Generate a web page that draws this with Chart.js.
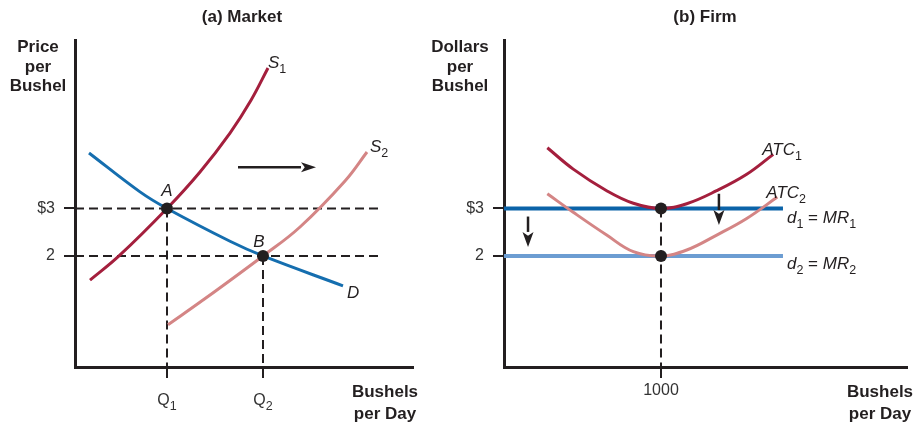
<!DOCTYPE html>
<html>
<head>
<meta charset="utf-8">
<script src="https://cdn.jsdelivr.net/npm/chart.js@4.4.1/dist/chart.umd.min.js"></script>
<style>
  body { margin: 0; background: #fff; }
  #wrap { position: relative; width: 919px; height: 427px; }
  #marketChart { position: absolute; left: 0; top: 0; }
  #firmChart { position: absolute; left: 400px; top: 0; }
</style>
</head>
<body>
<div id="wrap">
  <canvas id="marketChart" width="460" height="427"></canvas>
  <canvas id="firmChart" width="519" height="427"></canvas>
</div>
<script>
// ---- values ----
// shared price axis (dollars per bushel)
const priceMin = -0.34;
const priceMax = 6.55;
const priceTicks = [2, 3];
const priceTickLabels = ['2', '$3'];

// (a) Market  (quantity in arbitrary units)
const marketQtyMax = 33.8;
const marketQtyTicks = [9.2, 18.8];
const marketQtyLabels = [['Q', '1'], ['Q', '2']];
const s1Qty = [1.5, 4.4, 9.2, 12.5, 15.5, 17.6, 19.3];
const s1Price = [1.49, 2.0, 3.0, 3.77, 4.59, 5.28, 5.96];
const s2Qty = [9.3, 12.8, 18.8, 22.5, 27.0, 29.2];
const s2Price = [0.55, 1.07, 2.0, 2.61, 3.58, 4.19];
const dQty = [1.4, 6.5, 9.2, 15.5, 18.8, 26.8];
const dPrice = [4.17, 3.35, 3.0, 2.31, 2.0, 1.37];
const eqQty = [9.2, 18.8];
const eqPrice = [3, 2];
const eqLabels = ['A', 'B'];
const guideEnd = 30.6;
const shiftQty = [16.3, 24.1];
const shiftPrice = 3.87;

// (b) Firm  (bushels per day)
const firmQtyMax = 2567;
const firmQtyTicks = [1000];
const firmQtyLabels = ['1000'];
const atc1Qty = [276, 441, 654, 824, 1000, 1164, 1355, 1546, 1715];
const atc1Cost = [4.28, 3.83, 3.375, 3.11, 3.0, 3.10, 3.375, 3.72, 4.14];
const atc2Qty = [276, 441, 654, 824, 1000, 1164, 1355, 1546, 1741];
const atc2Cost = [3.31, 2.92, 2.44, 2.09, 2.0, 2.125, 2.44, 2.79, 3.24];
const mrPrice = [3, 2];
const mrEnd = 1777;
const firmOutput = 1000;
const dropArrows = [[153, 2.83, 2.19], [1369, 3.31, 2.65]];

// ---- styles ----
const FONT = '"Liberation Sans", Arial, Helvetica, sans-serif';
const ink = '#231f20';
const red = '#a41f3d';
const pink = '#d48585';
const blue = '#156eaf';
const darkBlue = '#0b63a8';
const lightBlue = '#6c9dd2';

Chart.defaults.font.family = FONT;

const pts = (xs, ys) => xs.map((x, i) => ({ x: x, y: ys[i] }));

function curve(data, color, width) {
  return {
    data: data, showLine: true, borderColor: color, borderWidth: width,
    pointRadius: 0, tension: 0.4, fill: false
  };
}
function straight(data, color, width) {
  return {
    data: data, showLine: true, borderColor: color, borderWidth: width,
    pointRadius: 0, tension: 0
  };
}
function dashed(data) {
  return {
    data: data, showLine: true, borderColor: ink, borderWidth: 2,
    borderDash: [9, 5], pointRadius: 0, tension: 0
  };
}
function dots(data) {
  return {
    data: data, showLine: false, pointRadius: 6, pointBackgroundColor: ink,
    pointBorderWidth: 0
  };
}

// text with italic / regular parts and subscripts
function drawRich(ctx, x, y, parts, align) {
  const fonts = {
    i: 'italic 17px ' + FONT,
    r: '17px ' + FONT,
    t: '16px ' + FONT,
    s: '12.5px ' + FONT
  };
  let total = 0;
  parts.forEach(p => { ctx.font = fonts[p[1]]; total += ctx.measureText(p[0]).width; });
  let cx = align === 'center' ? x - total / 2 : x;
  ctx.textAlign = 'left';
  ctx.textBaseline = 'alphabetic';
  parts.forEach(p => {
    ctx.font = fonts[p[1]];
    ctx.fillText(p[0], cx, p[1] === 's' ? y + 5 : y);
    cx += ctx.measureText(p[0]).width;
  });
}

function drawArrow(ctx, x1, y1, x2, y2, head, half) {
  const a = Math.atan2(y2 - y1, x2 - x1);
  const bx = x2 - head * Math.cos(a), by = y2 - head * Math.sin(a);
  ctx.beginPath();
  ctx.moveTo(x1, y1);
  ctx.lineTo(bx, by);
  ctx.lineWidth = 2.5;
  ctx.strokeStyle = ink;
  ctx.stroke();
  ctx.beginPath();
  ctx.moveTo(x2, y2);
  ctx.lineTo(bx + half * Math.sin(a), by - half * Math.cos(a));
  ctx.lineTo(bx + (head * 0.25) * Math.cos(a), by + (head * 0.25) * Math.sin(a));
  ctx.lineTo(bx - half * Math.sin(a), by + half * Math.cos(a));
  ctx.closePath();
  ctx.fillStyle = ink;
  ctx.fill();
}

// short tick marks hanging below the quantity axis
function drawQtyTicks(ctx, x, values, bottom) {
  ctx.strokeStyle = ink;
  ctx.lineWidth = 2;
  values.forEach(v => {
    const px = Math.round(x.getPixelForValue(v));
    ctx.beginPath();
    ctx.moveTo(px, bottom);
    ctx.lineTo(px, bottom + 11);
    ctx.stroke();
  });
}

function boldLines(ctx, lines, x, y0, step) {
  ctx.font = 'bold 17px ' + FONT;
  ctx.fillStyle = ink;
  ctx.textAlign = 'center';
  ctx.textBaseline = 'alphabetic';
  lines.forEach((t, i) => ctx.fillText(t, x, y0 + i * step));
}

function scales(xMax, xTicks, xLabels, showXLabels) {
  return {
    x: {
      type: 'linear', min: 0, max: xMax,
      border: { display: true, color: ink, width: 3 },
      grid: { display: true, drawOnChartArea: false, drawTicks: true, tickLength: 11, color: ink, lineWidth: 2 },
      afterBuildTicks: s => { s.ticks = xTicks.map(v => ({ value: v })); },
      afterFit: s => { s.height = 30; },
      ticks: {
        display: showXLabels, padding: 3, color: '#333',
        font: { size: 16 },
        callback: (v, i) => xLabels[i]
      }
    },
    y: {
      type: 'linear', min: priceMin, max: priceMax,
      border: { display: true, color: ink, width: 3 },
      grid: { display: true, drawOnChartArea: false, drawTicks: true, tickLength: 11, color: ink, lineWidth: 2 },
      afterBuildTicks: s => { s.ticks = priceTicks.map(v => ({ value: v })); },
      afterFit: s => { s.width = 40; },
      ticks: {
        padding: 9, color: '#333', font: { size: 16 },
        callback: (v, i) => priceTickLabels[i]
      }
    }
  };
}

const common = {
  responsive: false,
  animation: false,
  events: [],
  plugins: { legend: { display: false }, tooltip: { enabled: false } }
};

// (a) Market
const marketPlugin = {
  id: 'marketText',
  afterDraw(chart) {
    const { ctx, chartArea, scales: { x, y } } = chart;
    ctx.save();
    drawQtyTicks(ctx, x, marketQtyTicks, chartArea.bottom);
    boldLines(ctx, ['(a) Market'], 242, 21.5, 0);
    boldLines(ctx, ['Price', 'per', 'Bushel'], 38, 52, 19.5);
    boldLines(ctx, ['Bushels', 'per Day'], 385, 397, 21.5);
    ctx.fillStyle = '#333';
    marketQtyTicks.forEach((q, i) => {
      drawRich(ctx, x.getPixelForValue(q), 405, [[marketQtyLabels[i][0], 't'], [marketQtyLabels[i][1], 's']], 'center');
    });
    ctx.fillStyle = ink;
    const px = (q, p) => [x.getPixelForValue(q), y.getPixelForValue(p)];
    let e = px(s1Qty[s1Qty.length - 1], s1Price[s1Price.length - 1]);
    drawRich(ctx, e[0], e[1], [['S', 'i'], ['1', 's']]);
    e = px(s2Qty[s2Qty.length - 1], s2Price[s2Price.length - 1]);
    drawRich(ctx, e[0] + 3, e[1], [['S', 'i'], ['2', 's']]);
    e = px(dQty[dQty.length - 1], dPrice[dPrice.length - 1]);
    drawRich(ctx, e[0] + 4, e[1] + 12, [['D', 'i']]);
    e = px(eqQty[0], eqPrice[0]);
    drawRich(ctx, e[0], e[1] - 12, [[eqLabels[0], 'i']], 'center');
    e = px(eqQty[1], eqPrice[1]);
    drawRich(ctx, e[0] - 4, e[1] - 9, [[eqLabels[1], 'i']], 'center');
    const a = px(shiftQty[0], shiftPrice), b = px(shiftQty[1], shiftPrice);
    drawArrow(ctx, a[0], a[1], b[0], b[1], 15, 5);
    ctx.restore();
  }
};

new Chart(document.getElementById('marketChart'), {
  type: 'scatter',
  data: {
    datasets: [
      dots(pts(eqQty, eqPrice)),
      curve(pts(s1Qty, s1Price), red, 3),
      curve(pts(s2Qty, s2Price), pink, 3),
      curve(pts(dQty, dPrice), blue, 3),
      dashed([{ x: 0, y: eqPrice[0] }, { x: guideEnd, y: eqPrice[0] }]),
      dashed([{ x: 0, y: eqPrice[1] }, { x: guideEnd, y: eqPrice[1] }]),
      dashed([{ x: eqQty[0], y: eqPrice[0] }, { x: eqQty[0], y: priceMin }]),
      dashed([{ x: eqQty[1], y: eqPrice[1] }, { x: eqQty[1], y: priceMin }])
    ]
  },
  options: Object.assign({}, common, {
    layout: { padding: { left: 35, right: 47, top: 40, bottom: 30 } },
    scales: scales(marketQtyMax, marketQtyTicks, [], false)
  }),
  plugins: [marketPlugin]
});

// (b) Firm
const firmPlugin = {
  id: 'firmText',
  afterDraw(chart) {
    const { ctx, chartArea, scales: { x, y } } = chart;
    ctx.save();
    drawQtyTicks(ctx, x, firmQtyTicks, chartArea.bottom);
    boldLines(ctx, ['(b) Firm'], 305, 21.5, 0);
    boldLines(ctx, ['Dollars', 'per', 'Bushel'], 60, 52, 19.5);
    boldLines(ctx, ['Bushels', 'per Day'], 480, 397, 21.5);
    ctx.fillStyle = ink;
    const px = (q, p) => [x.getPixelForValue(q), y.getPixelForValue(p)];
    let e = px(atc1Qty[atc1Qty.length - 1], atc1Cost[atc1Cost.length - 1]);
    drawRich(ctx, e[0] - 11, e[1] + 1, [['ATC', 'i'], ['1', 's']]);
    e = px(atc2Qty[atc2Qty.length - 1], atc2Cost[atc2Cost.length - 1]);
    drawRich(ctx, e[0] - 11, e[1] + 1, [['ATC', 'i'], ['2', 's']]);
    e = px(mrEnd, mrPrice[0]);
    drawRich(ctx, e[0] + 4, e[1] + 15, [['d', 'i'], ['1', 's'], [' = ', 'r'], ['MR', 'i'], ['1', 's']]);
    e = px(mrEnd, mrPrice[1]);
    drawRich(ctx, e[0] + 4, e[1] + 13, [['d', 'i'], ['2', 's'], [' = ', 'r'], ['MR', 'i'], ['2', 's']]);
    dropArrows.forEach(d => {
      const a = px(d[0], d[1]), b = px(d[0], d[2]);
      drawArrow(ctx, a[0], a[1], b[0], b[1], 15, 5.5);
    });
    ctx.restore();
  }
};

new Chart(document.getElementById('firmChart'), {
  type: 'scatter',
  data: {
    datasets: [
      dots(pts([firmOutput, firmOutput], mrPrice)),
      curve(pts(atc1Qty, atc1Cost), red, 3),
      curve(pts(atc2Qty, atc2Cost), pink, 3),
      straight([{ x: 0, y: mrPrice[0] }, { x: mrEnd, y: mrPrice[0] }], darkBlue, 4),
      straight([{ x: 0, y: mrPrice[1] }, { x: mrEnd, y: mrPrice[1] }], lightBlue, 4),
      dashed([{ x: firmOutput, y: mrPrice[0] }, { x: firmOutput, y: priceMin }])
    ]
  },
  options: Object.assign({}, common, {
    layout: { padding: { left: 64, right: 12, top: 40, bottom: 30 } },
    scales: scales(firmQtyMax, firmQtyTicks, firmQtyLabels, true)
  }),
  plugins: [firmPlugin]
});
</script>
</body>
</html>
